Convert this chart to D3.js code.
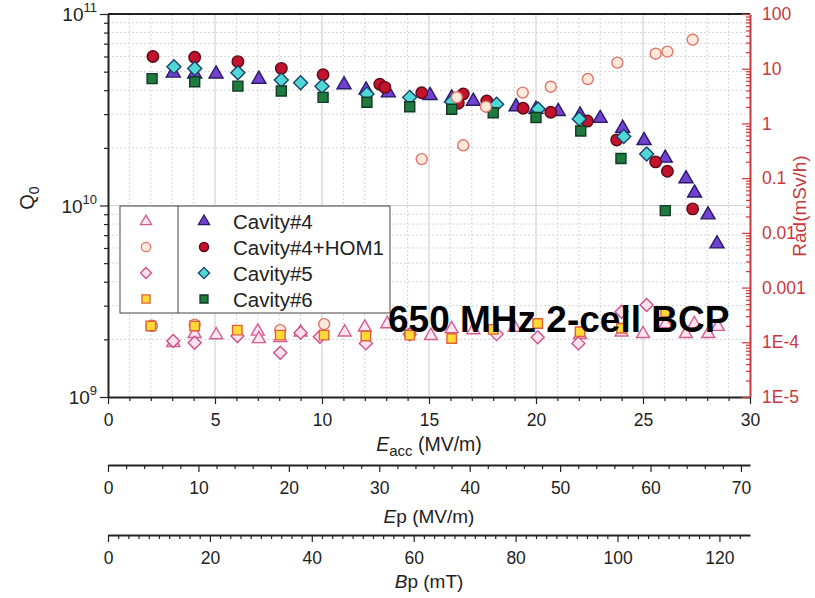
<!DOCTYPE html>
<html><head><meta charset="utf-8">
<script src="https://cdn.jsdelivr.net/npm/d3@7"></script>
<style>
html,body{margin:0;padding:0;background:#fff;}
svg{display:block;font-family:"Liberation Sans",Arial,Helvetica,sans-serif;}
</style></head><body>
<svg id="chart" width="815" height="598"></svg>
<script>
// ---- Q0 vs Eacc (left axis) ----
const cav4Q = [[3.05,4.95e10],[4.05,4.9e10],[5.05,4.9e10],[7.05,4.6e10],[11.03,4.3e10],[12.06,4.04e10],[13.1,3.9e10],[15.05,3.78e10],[16.06,3.67e10],[17.07,3.53e10],[19.07,3.3e10],[20.0,3.2e10],[21.04,3.12e10],[22.06,2.99e10],[23.0,2.87e10],[24.05,2.55e10],[25.05,2.2e10],[26.04,1.78e10],[27.01,1.39e10],[27.41,1.17e10],[28.04,9.0e9],[28.46,6.35e9]];
const hom1Q = [[2.1,6.0e10],[4.05,5.94e10],[6.07,5.64e10],[8.1,5.2e10],[10.05,4.82e10],[12.7,4.3e10],[12.94,4.14e10],[14.66,3.88e10],[16.37,3.42e10],[16.6,3.82e10],[17.7,3.51e10],[19.4,3.22e10],[20.69,3.07e10],[22.4,2.76e10],[23.77,2.2e10],[25.59,1.69e10],[26.14,1.51e10],[27.32,9.6e9]];
const cav5Q = [[3.08,5.3e10],[4.05,5.2e10],[6.07,4.94e10],[8.1,4.52e10],[9.0,4.38e10],[10.0,4.2e10],[12.1,3.82e10],[14.1,3.67e10],[16.06,3.48e10],[18.16,3.38e10],[20.1,3.19e10],[22.02,2.83e10],[24.1,2.29e10],[25.17,1.86e10]];
const cav6Q = [[2.06,4.6e10],[4.05,4.43e10],[6.07,4.2e10],[8.1,3.96e10],[10.05,3.67e10],[12.1,3.46e10],[14.1,3.28e10],[16.06,3.18e10],[18.0,3.05e10],[20.0,2.88e10],[22.09,2.45e10],[23.97,1.76e10],[26.04,9.4e9]];

// ---- Radiation vs Eacc (right axis, mSv/h) ----
const cav4Rad = [[3.05,1.0e-4],[4.05,1.46e-4],[5.06,1.39e-4],[7.0,1.62e-4],[7.05,1.18e-4],[8.05,1.23e-4],[9.0,1.55e-4],[11.06,1.56e-4],[12.0,1.92e-4],[13.05,2.21e-4],[15.09,1.35e-4],[16.06,1.8e-4],[17.07,1.72e-4],[19.0,1.9e-4],[22.06,1.4e-4],[24.0,1.56e-4],[25.0,1.46e-4],[26.06,2.21e-4],[27.0,1.46e-4],[27.4,2.21e-4],[28.05,1.46e-4],[28.5,1.98e-4]];
const hom1Rad = [[2.05,2.0e-4],[4.05,2.1e-4],[8.05,1.67e-4],[10.1,2.15e-4],[14.1,1.4e-4],[14.66,0.223],[16.3,3.0],[16.6,0.398],[17.66,2.02],[19.38,3.65],[20.69,4.69],[22.42,6.48],[23.8,12.9],[25.59,18.8],[26.14,20.5],[27.32,33.9]];
const cav5Rad = [[3.05,1.06e-4],[4.05,9.8e-5],[6.05,1.3e-4],[8.05,6.45e-5],[9.0,1.49e-4],[9.9,1.26e-4],[12.05,9.55e-5],[14.1,1.4e-4],[18.16,1.41e-4],[20.08,1.23e-4],[21.98,9.55e-5],[24.0,3.6e-4],[25.17,4.79e-4]];
const cav6Rad = [[2.0,1.98e-4],[4.05,1.98e-4],[6.04,1.67e-4],[8.05,1.35e-4],[10.1,1.35e-4],[12.05,1.3e-4],[14.1,1.35e-4],[16.06,1.17e-4],[18.0,1.72e-4],[20.08,2.21e-4],[22.06,1.56e-4],[24.0,1.8e-4],[26.06,3.6e-4]];

// ---- axis ticks / labels ----
const eaccTicks = [0,5,10,15,20,25,30];
const epTicks = [0,10,20,30,40,50,60,70];
const bpTicks = [0,20,40,60,80,100,120];
const qTicks = [[1e9,"9"],[1e10,"10"],[1e11,"11"]];
const radTicks = [[100,"100"],[10,"10"],[1,"1"],[0.1,"0.1"],[0.01,"0.01"],[0.001,"0.001"],[1e-4,"1E-4"],[1e-5,"1E-5"]];
const legendNames = ["Cavity#4","Cavity#4+HOM1","Cavity#5","Cavity#6"];
const titleText = "650 MHz 2-cell BCP";

const svg = d3.select("#chart");
const P = {left:108, right:750, top:14, bottom:397};
const x = d3.scaleLinear().domain([0,30]).range([P.left,P.right]);
const xEp = d3.scaleLinear().domain([0,71]).range([P.left,P.right]);
const xBp = d3.scaleLinear().domain([0,126]).range([P.left,P.right]);
const yQ = d3.scaleLog().domain([1e9,1e11]).range([P.bottom,P.top]);
const yRad = d3.scaleLog().domain([1e-5,100]).range([P.bottom,P.top]);

const RED = "#c8383c", INK = "#222";

function logMinors(lo, hi){
  const out=[];
  for(let d=lo; d<hi; d*=10) for(let m=2;m<=9;m++) out.push(d*m);
  return out;
}
const qMinor = logMinors(1e9,1e11);
const radMinor = logMinors(1e-5,100);
const eaccMinor = d3.range(0,31).filter(v=>v%5!==0);
const epMinor = d3.range(0,71,2).filter(v=>v%10!==0);
const bpMinor = d3.range(0,126,2).filter(v=>v%20!==0);

// ---- grid ----
const grid = svg.append("g");
grid.selectAll(".vminor").data(eaccMinor).join("line")
  .attr("x1",d=>x(d)).attr("x2",d=>x(d)).attr("y1",P.top).attr("y2",P.bottom)
  .attr("stroke","#d6d6d6").attr("stroke-width",1).attr("stroke-dasharray","2,2");
grid.selectAll(".vmajor").data([5,10,15,20,25]).join("line")
  .attr("x1",d=>x(d)).attr("x2",d=>x(d)).attr("y1",P.top).attr("y2",P.bottom)
  .attr("stroke","#d2d2d2").attr("stroke-width",1.2);
grid.selectAll(".hminor").data(qMinor).join("line")
  .attr("x1",P.left).attr("x2",P.right).attr("y1",d=>yQ(d)).attr("y2",d=>yQ(d))
  .attr("stroke","#d6d6d6").attr("stroke-width",1).attr("stroke-dasharray","2,2");
grid.append("line").attr("x1",P.left).attr("x2",P.right).attr("y1",yQ(1e10)).attr("y2",yQ(1e10))
  .attr("stroke","#d2d2d2").attr("stroke-width",1.2);

// ---- axes ----
function styleAxis(g, color, width){
  g.selectAll("path.domain").attr("stroke",color).attr("stroke-width",width||1.5);
  g.selectAll(".tick line").attr("stroke",color).attr("stroke-width",1.2);
  g.selectAll(".tick text").attr("fill",color).style("font-size","17.5px")
   .style("font-family","'Liberation Sans',Arial,sans-serif");
}
// top border
svg.append("line").attr("x1",P.left).attr("x2",P.right).attr("y1",P.top).attr("y2",P.top)
  .attr("stroke",INK).attr("stroke-width",2);

// Eacc axis
const gx = svg.append("g").attr("transform",`translate(0,${P.bottom})`)
  .call(d3.axisBottom(x).tickValues(eaccTicks).tickSize(7).tickSizeOuter(0).tickPadding(10));
styleAxis(gx, INK, 2);
const gx2 = svg.append("g").attr("transform",`translate(0,${P.bottom})`)
  .call(d3.axisBottom(x).tickValues(eaccMinor).tickSize(4).tickFormat(""));
gx2.select("path.domain").remove(); styleAxis(gx2, INK);

// Ep axis
const gEp = svg.append("g").attr("transform","translate(0,465)")
  .call(d3.axisBottom(xEp).tickValues(epTicks).tickSize(7).tickSizeOuter(0).tickPadding(10));
styleAxis(gEp, INK, 1.8);
const gEp2 = svg.append("g").attr("transform","translate(0,465)")
  .call(d3.axisBottom(xEp).tickValues(epMinor).tickSize(4).tickFormat(""));
gEp2.select("path.domain").remove(); styleAxis(gEp2, INK);

// Bp axis
const gBp = svg.append("g").attr("transform","translate(0,535)")
  .call(d3.axisBottom(xBp).tickValues(bpTicks).tickSize(7).tickSizeOuter(0).tickPadding(10));
styleAxis(gBp, INK, 1.8);
const gBp2 = svg.append("g").attr("transform","translate(0,535)")
  .call(d3.axisBottom(xBp).tickValues(bpMinor).tickSize(4).tickFormat(""));
gBp2.select("path.domain").remove(); styleAxis(gBp2, INK);

// Q0 axis (left)
const gy = svg.append("g").attr("transform",`translate(${P.left},0)`)
  .call(d3.axisLeft(yQ).tickValues(qTicks.map(d=>d[0])).tickSize(8).tickSizeOuter(0).tickFormat(""));
styleAxis(gy, INK, 2);
const gy2 = svg.append("g").attr("transform",`translate(${P.left},0)`)
  .call(d3.axisLeft(yQ).tickValues(qMinor).tickSize(4).tickFormat(""));
gy2.select("path.domain").remove(); styleAxis(gy2, INK);
const qLab = svg.append("g").selectAll("text").data(qTicks).join("text")
  .attr("x",97).attr("y",d=>yQ(d[0])+7).attr("text-anchor","end").attr("fill",INK);
qLab.append("tspan").style("font-size","19px").text("10");
qLab.append("tspan").style("font-size","13px").attr("dy",-9).text(d=>d[1]);

// Rad axis (right), ticks point inward
const gr = svg.append("g").attr("transform",`translate(${P.right},0)`)
  .call(d3.axisRight(yRad).tickValues(radTicks.map(d=>d[0])).tickSize(-8).tickSizeOuter(0)
    .tickPadding(12).tickFormat(v=>radTicks.find(t=>t[0]===v)[1]));
styleAxis(gr, RED, 2);
const gr2 = svg.append("g").attr("transform",`translate(${P.right},0)`)
  .call(d3.axisRight(yRad).tickValues(radMinor).tickSize(-4).tickFormat(""));
gr2.select("path.domain").remove(); styleAxis(gr2, RED);

// axis titles
const tQ = svg.append("text").attr("transform","translate(34,198) rotate(-90)")
  .attr("text-anchor","middle").attr("fill",INK);
tQ.append("tspan").style("font-size","20px").text("Q");
tQ.append("tspan").style("font-size","14px").attr("dy",5).text("0");

svg.append("text").attr("transform","translate(806,206) rotate(-90)")
  .attr("text-anchor","middle").attr("fill",RED).style("font-size","19px").text("Rad(mSv/h)");

const tE = svg.append("text").attr("x",x(15)).attr("y",451).attr("text-anchor","middle")
  .attr("fill",INK).style("font-size","19.5px");
tE.append("tspan").style("font-style","italic").text("E");
tE.append("tspan").style("font-size","15px").attr("dy",5).text("acc");
tE.append("tspan").attr("dy",-5).text(" (MV/m)");

const tEp = svg.append("text").attr("x",x(15)).attr("y",523).attr("text-anchor","middle")
  .attr("fill",INK).style("font-size","19px");
tEp.append("tspan").style("font-style","italic").text("E");
tEp.append("tspan").text("p (MV/m)");

const tBp = svg.append("text").attr("x",x(15)).attr("y",588).attr("text-anchor","middle")
  .attr("fill",INK).style("font-size","19px");
tBp.append("tspan").style("font-style","italic").text("B");
tBp.append("tspan").text("p (mT)");

// ---- markers ----
function shapePath(shape, s){
  if(shape==="tri"){ const h=s*0.866; return `M0,${-h*0.62}L${s/2},${h*0.38}L${-s/2},${h*0.38}Z`; }
  if(shape==="dia"){ const r=s/2; return `M0,${-r}L${r},0L0,${r}L${-r},0Z`; }
  if(shape==="sq"){ const r=s/2; return `M${-r},${-r}H${r}V${r}H${-r}Z`; }
  const r=s/2; return `M${r},0A${r},${r} 0 1,1 ${-r},0A${r},${r} 0 1,1 ${r},0Z`;
}
const filledStyle = {
  tri:{fill:"#7142cf",stroke:"#271b6a",size:14},
  circ:{fill:"#c2122c",stroke:"#5c0a16",size:11.5},
  dia:{fill:"#4fd8d4",stroke:"#1d3f6e",size:14},
  sq:{fill:"#1f7b3c",stroke:"#0f3a28",size:10}
};
const openStyle = {
  tri:{fill:"#fde4ee",stroke:"#d45d95",size:13},
  circ:{fill:"#ffe9da",stroke:"#df7468",size:11},
  dia:{fill:"#fde2ed",stroke:"#cf4f8a",size:13},
  sq:{fill:"#ffd936",stroke:"#e0603a",size:9.5}
};
function drawSeries(data, yScale, shape, st){
  svg.append("g").selectAll("path").data(data).join("path")
    .attr("transform",d=>`translate(${x(d[0])},${yScale(d[1])})`)
    .attr("d",shapePath(shape, st.size))
    .attr("fill",st.fill).attr("stroke",st.stroke).attr("stroke-width",1.4);
}
drawSeries(cav4Q, yQ, "tri", filledStyle.tri);
drawSeries(hom1Q, yQ, "circ", filledStyle.circ);
drawSeries(cav5Q, yQ, "dia", filledStyle.dia);
drawSeries(cav6Q, yQ, "sq", filledStyle.sq);
drawSeries(cav4Rad, yRad, "tri", openStyle.tri);
drawSeries(hom1Rad, yRad, "circ", openStyle.circ);
drawSeries(cav5Rad, yRad, "dia", openStyle.dia);
drawSeries(cav6Rad, yRad, "sq", openStyle.sq);

// ---- legend ----
const lg = svg.append("g");
lg.append("rect").attr("x",120).attr("y",206).attr("width",270).attr("height",107)
  .attr("fill","#fff").attr("stroke","#444").attr("stroke-width",1);
lg.append("line").attr("x1",178).attr("x2",178).attr("y1",206).attr("y2",313)
  .attr("stroke","#444").attr("stroke-width",1);
const shapes = ["tri","circ","dia","sq"];
const rowY = [221,247,273,299];
shapes.forEach((sh,i)=>{
  const o = openStyle[sh], f = filledStyle[sh];
  lg.append("path").attr("transform",`translate(146,${rowY[i]})`).attr("d",shapePath(sh,o.size*0.85))
    .attr("fill",o.fill).attr("stroke",o.stroke).attr("stroke-width",1.3);
  lg.append("path").attr("transform",`translate(204,${rowY[i]})`).attr("d",shapePath(sh,f.size*0.8))
    .attr("fill",f.fill).attr("stroke",f.stroke).attr("stroke-width",1.3);
  lg.append("text").attr("x",233).attr("y",rowY[i]+7.5).attr("fill",INK)
    .style("font-size","20.5px").text(legendNames[i]);
});

// ---- title ----
svg.append("text").attr("x",388).attr("y",332).attr("fill","#000")
  .style("font-size","37px").style("font-weight","bold").text(titleText);
</script>
</body></html>
